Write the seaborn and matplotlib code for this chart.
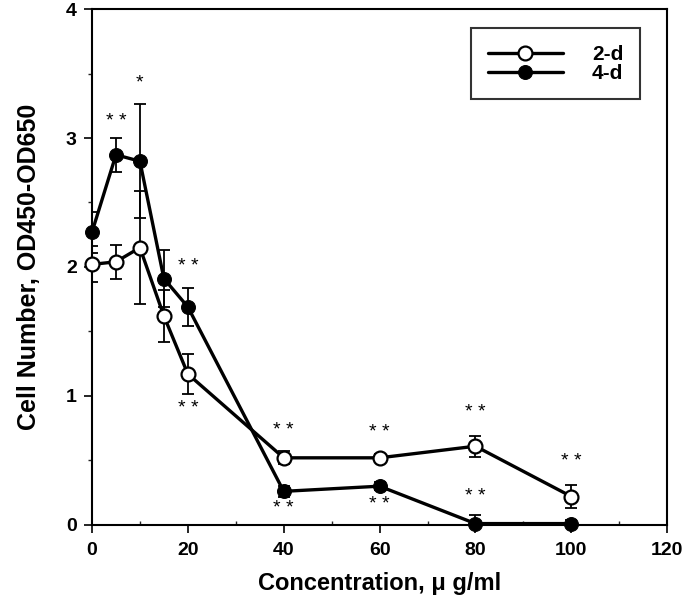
import numpy as np
import pandas as pd
import seaborn as sns
import matplotlib.pyplot as plt
from matplotlib.ticker import MultipleLocator

# concentrations (ug/ml)
conc = [0, 5, 10, 15, 20, 40, 60, 80, 100]

# 2-day cultures (open circles)
d2_mean = [2.02, 2.04, 2.15, 1.62, 1.17, 0.52, 0.52, 0.61, 0.22]
d2_err = [0.14, 0.13, 0.44, 0.20, 0.155, 0.05, 0.03, 0.08, 0.09]

# 4-day cultures (filled circles)
d4_mean = [2.27, 2.87, 2.82, 1.91, 1.69, 0.26, 0.30, 0.01, 0.01]
d4_err = [0.16, 0.13, 0.44, 0.22, 0.15, 0.04, 0.03, 0.07, 0.03]

# significance marks: (x, y, text)
star_x = [5, 10, 20, 20, 40, 40, 60, 60, 80, 80, 100]
star_y = [3.13, 3.43, 2.00, 0.90, 0.73, 0.13, 0.72, 0.155, 0.87, 0.22, 0.49]
star_txt = ['* *', '*', '* *', '* *', '* *', '* *', '* *', '* *', '* *', '* *', '* *']

sns.set_style("ticks")
plt.rcParams['font.family'] = ['Liberation Sans', 'DejaVu Sans']
plt.rcParams['text.color'] = 'black'
plt.rcParams['axes.labelcolor'] = 'black'

df = pd.DataFrame({
    'conc': conc * 2,
    'value': d2_mean + d4_mean,
    'group': ['2-d'] * len(conc) + ['4-d'] * len(conc),
})

fig = plt.figure(figsize=(6.88, 6.04), dpi=100)
ax = fig.add_axes([0.1337, 0.131, 0.836, 0.854])

# error bars underneath
ax.errorbar(conc, d2_mean, yerr=d2_err, fmt='none', ecolor='black',
            elinewidth=1.3, capsize=4, capthick=1.3, zorder=1)
ax.errorbar(conc, d4_mean, yerr=d4_err, fmt='none', ecolor='black',
            elinewidth=1.3, capsize=4, capthick=1.3, zorder=1)

sns.lineplot(data=df[df.group == '2-d'], x='conc', y='value', ax=ax,
             color='black', linewidth=2.4, marker='o', markersize=10,
             markerfacecolor='white', markeredgecolor='black',
             markeredgewidth=1.6, label='2-d', zorder=3, clip_on=False)
sns.lineplot(data=df[df.group == '4-d'], x='conc', y='value', ax=ax,
             color='black', linewidth=2.4, marker='o', markersize=10,
             markerfacecolor='black', markeredgecolor='black',
             label='4-d', zorder=3, clip_on=False)

for x, y, t in zip(star_x, star_y, star_txt):
    ax.text(x, y, t, ha='center', va='center', fontsize=14, color='black')

ax.set_xlim(0, 120)
ax.set_ylim(0, 4)
ax.xaxis.set_major_locator(MultipleLocator(20))
ax.xaxis.set_minor_locator(MultipleLocator(10))
ax.yaxis.set_major_locator(MultipleLocator(1))
ax.yaxis.set_minor_locator(MultipleLocator(0.5))
ax.tick_params(axis='both', which='major', direction='out', length=6,
               width=1.2, labelsize=14, colors='black')
ax.tick_params(axis='x', which='major', pad=6)
ax.tick_params(axis='y', which='major', pad=5)
ax.tick_params(axis='both', which='minor', direction='out', length=3, width=1.0)
ax.tick_params(axis='x', which='minor', direction='in')
for lab in ax.get_xticklabels() + ax.get_yticklabels():
    lab.set_fontweight('bold')

for s in ax.spines.values():
    s.set_visible(True)
    s.set_color('black')
    s.set_linewidth(1.5)

ax.set_xlabel('Concentration, \u03bc g/ml', fontsize=17, fontweight='bold', labelpad=10)
ax.set_ylabel('Cell Number, OD450-OD650', fontsize=18, fontweight='bold', labelpad=18)

leg = ax.legend(loc='upper right', bbox_to_anchor=(0.953, 0.963), frameon=True,
                fancybox=False, edgecolor='black', handlelength=3.6,
                prop={'weight': 'bold', 'size': 15}, borderaxespad=0,
                borderpad=0.8, labelspacing=0.0, handletextpad=1.4)
leg.get_frame().set_linewidth(1.5)

fig.savefig('out.png', dpi=100)
